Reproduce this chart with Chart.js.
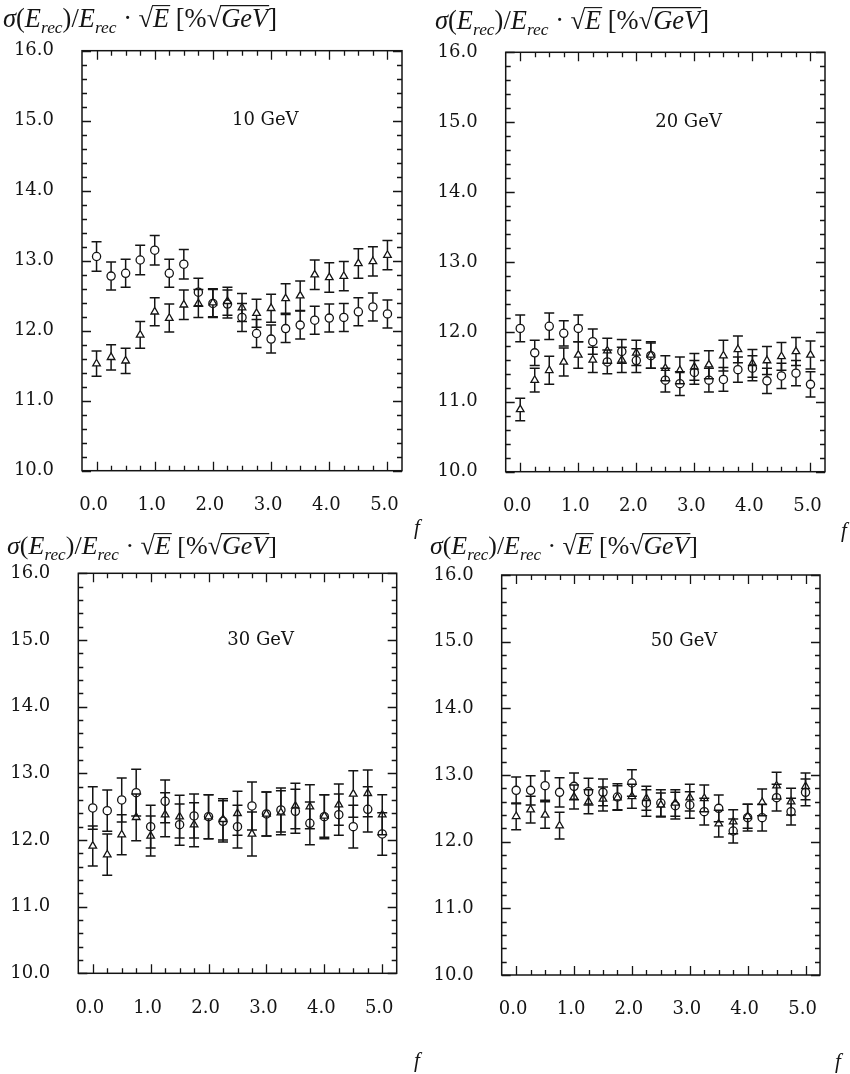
<!DOCTYPE html>
<html><head><meta charset="utf-8">
<script src="https://cdn.jsdelivr.net/npm/chart.js@4.4.1/dist/chart.umd.min.js"></script>
<style>
html,body{margin:0;padding:0;background:#fff;}
body{width:850px;height:1074px;position:relative;overflow:hidden;}
canvas{position:absolute;}
</style></head><body>
<canvas id="c1" width="425" height="548" style="left:0px;top:0px"></canvas>
<canvas id="c2" width="425" height="548" style="left:425px;top:0px"></canvas>
<canvas id="c3" width="425" height="554" style="left:0px;top:520px"></canvas>
<canvas id="c4" width="425" height="554" style="left:425px;top:520px"></canvas>
<script>
// ---------- data ----------
const fValues = [0.0,0.25,0.5,0.75,1.0,1.25,1.5,1.75,2.0,2.25,2.5,2.75,3.0,3.25,3.5,3.75,4.0,4.25,4.5,4.75,5.0];
const xTickValues = [0,1,2,3,4,5];
const yTickValues = [10,11,12,13,14,15,16];
const energyLabels = ['10 GeV','20 GeV','30 GeV','50 GeV'];

const circ10 = [13.06,12.78,12.82,13.01,13.15,12.82,12.95,12.55,12.39,12.38,12.19,11.96,11.88,12.03,12.08,12.15,12.18,12.19,12.27,12.34,12.24];
const tri10  = [11.53,11.62,11.57,11.94,12.27,12.18,12.37,12.39,12.40,12.42,12.33,12.25,12.32,12.46,12.50,12.80,12.76,12.78,12.96,12.99,13.08];
const circ10Err = [0.21,0.2,0.2,0.21,0.21,0.2,0.21,0.2,0.2,0.2,0.2,0.2,0.2,0.2,0.2,0.2,0.2,0.2,0.2,0.2,0.2];
const tri10Err  = [0.18,0.18,0.18,0.19,0.2,0.2,0.21,0.2,0.2,0.2,0.2,0.2,0.2,0.21,0.21,0.21,0.21,0.21,0.21,0.21,0.21];

const circ20 = [12.05,11.70,12.08,11.98,12.05,11.86,11.57,11.72,11.59,11.66,11.31,11.26,11.42,11.31,11.32,11.46,11.48,11.30,11.37,11.41,11.25];
const tri20  = [10.89,11.31,11.45,11.57,11.67,11.60,11.73,11.60,11.70,11.67,11.48,11.45,11.50,11.53,11.66,11.75,11.55,11.59,11.65,11.72,11.67];
const circ20Err = [0.19,0.18,0.19,0.18,0.19,0.18,0.17,0.17,0.17,0.18,0.17,0.17,0.17,0.17,0.17,0.18,0.18,0.18,0.18,0.18,0.18];
const tri20Err  = [0.16,0.17,0.2,0.2,0.19,0.18,0.18,0.18,0.18,0.19,0.18,0.19,0.19,0.2,0.22,0.19,0.2,0.2,0.2,0.2,0.2];

const circ30 = [12.48,12.44,12.60,12.71,12.20,12.58,12.23,12.36,12.35,12.28,12.20,12.51,12.39,12.45,12.43,12.25,12.35,12.38,12.20,12.46,12.09];
const tri30  = [11.91,11.78,12.08,12.34,12.06,12.38,12.35,12.23,12.35,12.31,12.40,12.09,12.39,12.41,12.51,12.50,12.36,12.53,12.69,12.70,12.38];
const circ30Err = [0.32,0.31,0.33,0.35,0.32,0.32,0.31,0.33,0.33,0.31,0.32,0.36,0.33,0.33,0.33,0.32,0.33,0.31,0.32,0.34,0.32];
const tri30Err  = [0.3,0.31,0.3,0.35,0.3,0.33,0.32,0.33,0.33,0.31,0.33,0.33,0.33,0.33,0.34,0.33,0.32,0.31,0.35,0.35,0.3];

const circ50 = [12.77,12.77,12.84,12.74,12.83,12.75,12.74,12.67,12.88,12.58,12.58,12.54,12.55,12.45,12.50,12.16,12.36,12.36,12.66,12.45,12.74];
const tri50  = [12.38,12.48,12.40,12.24,12.67,12.60,12.64,12.66,12.68,12.65,12.55,12.58,12.66,12.65,12.27,12.30,12.38,12.59,12.84,12.60,12.83];
const circ50Err = [0.2,0.22,0.22,0.22,0.2,0.2,0.2,0.2,0.2,0.2,0.2,0.2,0.2,0.2,0.2,0.18,0.2,0.2,0.2,0.2,0.2];
const tri50Err  = [0.2,0.2,0.2,0.2,0.18,0.18,0.18,0.18,0.18,0.18,0.18,0.2,0.2,0.2,0.2,0.18,0.18,0.2,0.2,0.2,0.2];

const seriesCirc = [circ10,circ20,circ30,circ50];
const seriesTri  = [tri10,tri20,tri30,tri50];
const errCirc = [circ10Err,circ20Err,circ30Err,circ50Err];
const errTri  = [tri10Err,tri20Err,tri30Err,tri50Err];

// ---------- layout (pixel geometry only) ----------
const panels = [
  {id:'c1', w:425, h:548, area:{l:82,   r:402,   t:50.7, b:470.7}, title:{x:3,  y:27, w:274}, f:{x:414, y:534}},
  {id:'c2', w:425, h:548, area:{l:80.7, r:400,   t:52.3, b:471.7}, title:{x:10, y:29, w:274}, f:{x:416, y:537}},
  {id:'c3', w:425, h:554, area:{l:78.3, r:396.7, t:53.3, b:453.3}, title:{x:7,  y:34, w:270}, f:{x:414, y:547}},
  {id:'c4', w:425, h:554, area:{l:76.7, r:395,   t:55,   b:455},   title:{x:5,  y:34, w:268}, f:{x:410, y:548}}
];

const INK = '#141414';
const SERIF = '"DejaVu Serif", serif';
const MATH = '"Liberation Serif", "DejaVu Serif", serif';

function drawTitle(ctx, x, y, targetW) {
  const parts = [
    ['σ','i'],['(','n'],['E','i'],['rec','s'],[')','n'],['/','n'],['E','i'],['rec','s'],
    [' · ','n'],['√','r'],['E','io'],[' [%','n'],['√','r'],['GeV','io'],[']','n']
  ];
  function fontFor(kind, s) {
    if (kind === 's') return 'italic ' + (s*0.66).toFixed(2) + 'px ' + MATH;
    if (kind === 'i' || kind === 'io') return 'italic ' + s.toFixed(2) + 'px ' + MATH;
    return s.toFixed(2) + 'px ' + MATH;
  }
  function total(s) {
    let w = 0;
    for (const [t,k] of parts) { ctx.font = fontFor(k,s); w += ctx.measureText(t).width; }
    return w;
  }
  let size = 20;
  size = size * targetW / total(size);
  ctx.save();
  ctx.fillStyle = INK; ctx.strokeStyle = INK;
  ctx.textBaseline = 'alphabetic'; ctx.textAlign = 'left';
  let cx = x; let rootTop = null;
  for (const [t,k] of parts) {
    ctx.font = fontFor(k,size);
    const m = ctx.measureText(t);
    const yy = k === 's' ? y + size*0.22 : y;
    ctx.fillText(t, cx, yy);
    if (k === 'r') rootTop = y - m.actualBoundingBoxAscent;
    if (k === 'io' && rootTop !== null) {
      ctx.lineWidth = 1.1;
      ctx.beginPath();
      ctx.moveTo(cx - 1, rootTop + 0.6);
      ctx.lineTo(cx + m.width + 1, rootTop + 0.6);
      ctx.stroke();
    }
    cx += m.width;
  }
  ctx.restore();
}

const decorPlugin = {
  id: 'decor',
  beforeDatasetsDraw(chart) {
    const ctx = chart.ctx;
    const xs = chart.scales.x, ys = chart.scales.y;
    const a = chart.chartArea;
    ctx.save();
    ctx.strokeStyle = INK;
    ctx.lineWidth = 1.5;
    ctx.strokeRect(a.left, a.top, a.right - a.left, a.bottom - a.top);
    ctx.lineWidth = 1.3;
    ctx.beginPath();
    for (let i = 0; i <= 20; i++) {
      const v = i * 0.25;
      const px = Math.round(xs.getPixelForValue(v)) + 0.5;
      const len = (i % 4 === 0) ? 9 : 5;
      ctx.moveTo(px, a.bottom); ctx.lineTo(px, a.bottom - len);
      ctx.moveTo(px, a.top); ctx.lineTo(px, a.top + len);
    }
    for (let i = 0; i <= 30; i++) {
      const v = 10 + i * 0.2;
      const py = Math.round(ys.getPixelForValue(v)) + 0.5;
      const len = (i % 5 === 0) ? 9 : 5;
      ctx.moveTo(a.left, py); ctx.lineTo(a.left + len, py);
      ctx.moveTo(a.right, py); ctx.lineTo(a.right - len, py);
    }
    ctx.stroke();

    chart.data.datasets.forEach((ds, di) => {
      const meta = chart.getDatasetMeta(di);
      const r = ds.pointRadius;
      const tri = ds.pointStyle === 'triangle';
      const gapUp = r, gapDown = tri ? r * 0.5 : r;
      ctx.lineWidth = 1.5;
      ctx.beginPath();
      meta.data.forEach((el, i) => {
        const val = ds.data[i].y, e = ds.errors[i];
        const px = el.x, py = el.y;
        const yt = ys.getPixelForValue(val + e);
        const yb = ys.getPixelForValue(val - e);
        ctx.moveTo(px, yt); ctx.lineTo(px, py - gapUp);
        ctx.moveTo(px, py + gapDown); ctx.lineTo(px, yb);
        ctx.moveTo(px - 5, yt); ctx.lineTo(px + 5, yt);
        ctx.moveTo(px - 5, yb); ctx.lineTo(px + 5, yb);
      });
      ctx.stroke();
    });
    ctx.restore();
  },
  afterDraw(chart) {
    const ctx = chart.ctx;
    const p = chart.options.plugins.decor;
    const xs = chart.scales.x, ys = chart.scales.y;
    ctx.save();
    drawTitle(ctx, p.title.x, p.title.y, p.title.w);
    ctx.fillStyle = INK;
    ctx.font = '18px ' + SERIF;
    ctx.textAlign = 'center'; ctx.textBaseline = 'middle';
    ctx.fillText(p.label, xs.getPixelForValue(2.9), ys.getPixelForValue(15.0));
    ctx.font = 'italic 21px ' + MATH;
    ctx.textAlign = 'left'; ctx.textBaseline = 'alphabetic';
    ctx.fillText('f', p.f.x, p.f.y);
    ctx.restore();
  }
};

panels.forEach((pn, k) => {
  const ctx = document.getElementById(pn.id).getContext('2d');
  const mk = (vals, errs, style, r) => ({
    data: fValues.map((x, i) => ({x: x, y: vals[i]})),
    errors: errs,
    pointStyle: style,
    pointRadius: r,
    pointHoverRadius: r,
    pointBorderWidth: 1.3,
    borderColor: INK,
    backgroundColor: 'rgba(0,0,0,0)',
    showLine: false
  });
  new Chart(ctx, {
    type: 'scatter',
    data: { datasets: [
      mk(seriesCirc[k], errCirc[k], 'circle', 4.1),
      mk(seriesTri[k], errTri[k], 'triangle', 4.4)
    ]},
    options: {
      responsive: false,
      animation: false,
      devicePixelRatio: 1,
      events: [],
      layout: { padding: { left: 0, top: pn.area.t, right: pn.w - pn.area.r, bottom: 0 } },
      plugins: {
        legend: { display: false },
        tooltip: { enabled: false },
        decor: { title: pn.title, f: pn.f, label: energyLabels[k] }
      },
      scales: {
        x: {
          type: 'linear', min: -0.25, max: 5.25,
          afterBuildTicks: (s) => { s.ticks = xTickValues.map(v => ({value: v})); },
          afterFit: (s) => { s.height = pn.h - pn.area.b; },
          grid: { display: false }, border: { display: false },
          ticks: { color: INK, font: { family: SERIF, size: 18 }, padding: 16, labelOffset: -3,
                   maxRotation: 0, autoSkip: false, callback: (v) => Number(v).toFixed(1) }
        },
        y: {
          type: 'linear', min: 10, max: 16,
          afterBuildTicks: (s) => { s.ticks = yTickValues.map(v => ({value: v})); },
          afterFit: (s) => { s.width = pn.area.l; },
          grid: { display: false }, border: { display: false },
          ticks: { color: INK, font: { family: SERIF, size: 18 }, padding: 20,
                   autoSkip: false, callback: (v) => Number(v).toFixed(1) }
        }
      }
    },
    plugins: [decorPlugin]
  });
});
</script>
</body></html>
